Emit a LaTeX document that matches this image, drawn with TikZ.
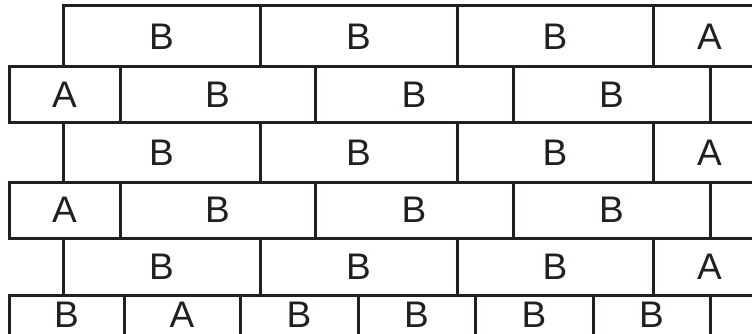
\documentclass[tikz,border=0pt]{standalone}
\usepackage{fontspec}
\setmainfont{Liberation Sans}
\definecolor{ink}{HTML}{231F20}
\tikzset{
  brickline/.style={draw=ink, line width=3pt, line join=miter},
  lbl/.style={inner sep=0pt, text=ink, font=\fontsize{37}{37}\selectfont, anchor=center}
}
\newcommand{\brick}[6]{%
  \draw[brickline] (#2,#3) rectangle (#4,#5);
  \node[lbl] at ({(#2+#4)/2},{(#3+#5)/2}) {#6};
}
\begin{document}
\begin{tikzpicture}[x=1pt,y=-1pt]
\useasboundingbox (0,0) rectangle (752,334);
\clip (0,0) rectangle (752,334);
% rows 1, 3, 5
\foreach \ya/\yb/\r in {6/67/1,123/182/3,238/295/5}{
  \brick{b\r a}{63}{\ya}{260}{\yb}{B}
  \brick{b\r b}{260}{\ya}{457}{\yb}{B}
  \brick{b\r c}{457}{\ya}{653}{\yb}{B}
  \brick{b\r d}{653}{\ya}{766}{\yb}{A}
}
% rows 2, 4
\foreach \ya/\yb/\r in {67/123/2,182/238/4}{
  \brick{b\r a}{9}{\ya}{120}{\yb}{A}
  \brick{b\r b}{120}{\ya}{315}{\yb}{B}
  \brick{b\r c}{315}{\ya}{513}{\yb}{B}
  \brick{b\r d}{513}{\ya}{710}{\yb}{B}
  \brick{b\r e}{710}{\ya}{800}{\yb}{}
}
% row 6
\draw[brickline] (9,295) rectangle (124,345);
\draw[brickline] (124,295) rectangle (240,345);
\draw[brickline] (240,295) rectangle (358,345);
\draw[brickline] (358,295) rectangle (475,345);
\draw[brickline] (475,295) rectangle (593,345);
\draw[brickline] (593,295) rectangle (710,345);
\draw[brickline] (710,295) rectangle (800,345);
\node[lbl] (b6a) at (66.5,315) {B};
\node[lbl] (b6b) at (182,315) {A};
\node[lbl] (b6c) at (299,315) {B};
\node[lbl] (b6d) at (416.5,315) {B};
\node[lbl] (b6e) at (534,315) {B};
\node[lbl] (b6f) at (651.5,315) {B};
\end{tikzpicture}
\end{document}
